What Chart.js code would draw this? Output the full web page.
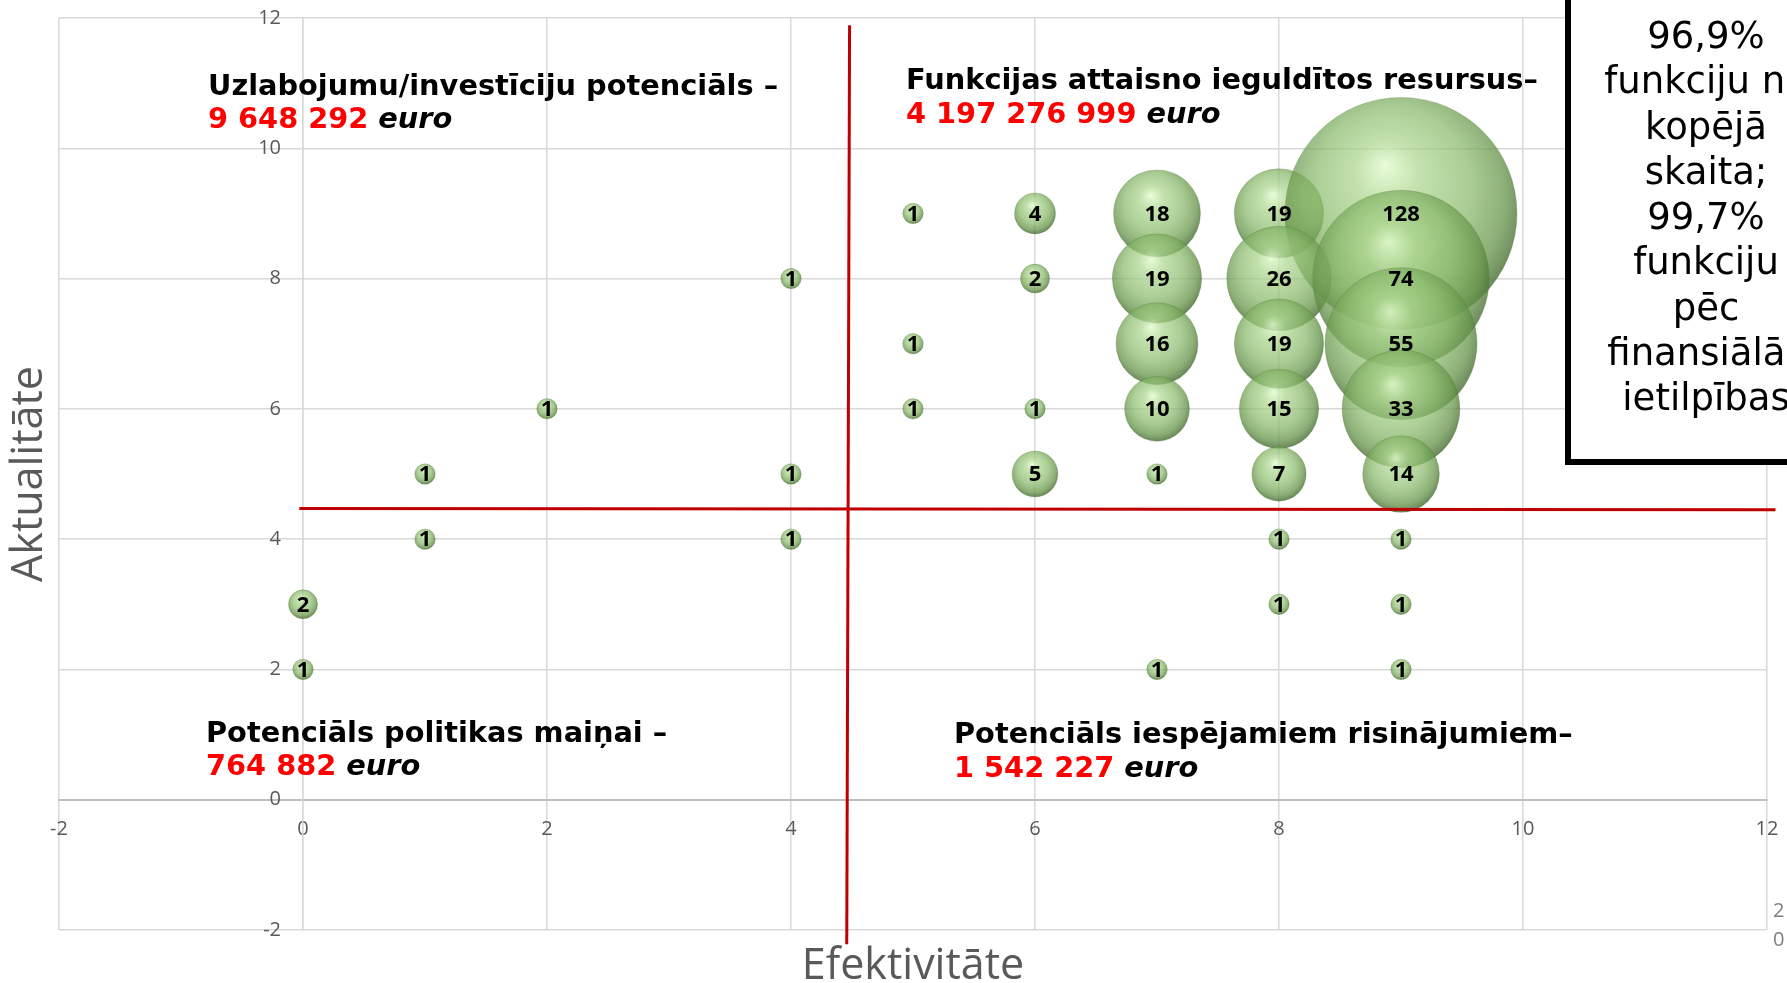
<!DOCTYPE html>
<html>
<head>
<meta charset="utf-8">
<script src="https://cdn.jsdelivr.net/npm/chart.js@4.4.0/dist/chart.umd.min.js"></script>
<style>
  html, body { margin: 0; padding: 0; background: #fff; }
</style>
</head>
<body>
<canvas id="bubble_canvas" width="1787" height="983"></canvas>
<script>
// x = Efektivitāte, y = Aktualitāte, value = funkciju skaits
const efektivitate = [5, 6, 7, 8, 9,   4, 6, 7, 8, 9,   5, 7, 8, 9,   2, 5, 6, 7, 8, 9,   1, 4, 6, 7, 8, 9,   1, 4, 8, 9,   0, 8, 9,   0, 7, 9];
const aktualitate  = [9, 9, 9, 9, 9,   8, 8, 8, 8, 8,   7, 7, 7, 7,   6, 6, 6, 6, 6, 6,   5, 5, 5, 5, 5, 5,   4, 4, 4, 4,   3, 3, 3,   2, 2, 2];
const skaits       = [1, 4, 18, 19, 128, 1, 2, 19, 26, 74, 1, 16, 19, 55, 1, 1, 1, 10, 15, 33, 1, 1, 5, 1, 7, 14, 1, 1, 1, 1, 2, 1, 1, 1, 1, 1];

// red dividing lines, in axis units
const vLineX = [4.48, 4.457];
const vLineY = [11.89, -2.22];
const hLineX = [-0.03, 12.07];
const hLineY = [4.47, 4.45];

const quadrantTitles = [
  'Uzlabojumu/investīciju potenciāls –',
  'Funkcijas attaisno ieguldītos resursus–',
  'Potenciāls politikas maiņai –',
  'Potenciāls iespējamiem risinājumiem–'
];
const quadrantSums = ['9 648 292', '4 197 276 999', '764 882', '1 542 227'];

const calloutLines = ['96,9%', 'funkciju no', 'kopējā', 'skaita;', '99,7%', 'funkciju', 'pēc', 'finansiālās', 'ietilpības'];

const xTitle = 'Efektivitāte';
const yTitle = 'Aktualitāte';

const MAX_R = 116;
const maxCount = Math.max(...skaits);
function radiusFor(v) { return MAX_R * Math.sqrt(v / maxCount); }

// 3D-looking sphere fill, lit from the top
function sphere(c) {
  const flat = 'rgba(140,188,110,0.72)';
  if (!c.raw) return flat;
  const {ctx, scales} = c.chart;
  if (!scales.x || !scales.y) return flat;
  const cx = scales.x.getPixelForValue(c.raw.x);
  const cy = scales.y.getPixelForValue(c.raw.y);
  const r = radiusFor(c.raw.v);
  if (!isFinite(cx) || !isFinite(cy) || !isFinite(r)) return flat;
  const g = ctx.createRadialGradient(cx - 0.14 * r, cy - 0.42 * r, 0, cx - 0.04 * r, cy - 0.12 * r, 1.12 * r);
  g.addColorStop(0, 'rgba(228,252,208,0.8)');
  g.addColorStop(0.25, 'rgba(172,214,142,0.72)');
  g.addColorStop(0.6, 'rgba(138,186,108,0.72)');
  g.addColorStop(0.85, 'rgba(104,150,76,0.76)');
  g.addColorStop(1, 'rgba(72,108,52,0.82)');
  return g;
}

const bubbleData = efektivitate.map((x, i) => ({x: x, y: aktualitate[i], v: skaits[i]}));

const labelsPlugin = {
  id: 'bubbleLabels',
  afterDatasetsDraw(chart) {
    const ctx = chart.ctx;
    const meta = chart.getDatasetMeta(2);
    ctx.save();
    ctx.font = 'bold 22px "Open Sans"';
    ctx.fillStyle = '#000';
    ctx.textAlign = 'center';
    ctx.textBaseline = 'middle';
    meta.data.forEach((el, i) => {
      ctx.fillText(String(skaits[i]), el.x, el.y + 1);
    });
    ctx.restore();
  }
};

// y tick labels sit beside the vertical axis at x = 0
const yLabelsPlugin = {
  id: 'yLabels',
  afterDraw(chart) {
    const {ctx, scales} = chart;
    const x0 = scales.x.getPixelForValue(0);
    ctx.save();
    ctx.font = '20px "Open Sans"';
    ctx.fillStyle = '#595959';
    ctx.textAlign = 'right';
    ctx.textBaseline = 'middle';
    scales.y.ticks.forEach(t => {
      ctx.fillText(String(t.value), x0 - 22, scales.y.getPixelForValue(t.value));
    });
    ctx.restore();
  }
};

// text placements [left, baseline1, baseline2]
const quadrantPos = [[208, 95, 128], [906, 89, 123], [206, 742, 775], [954, 743, 777]];

const textPlugin = {
  id: 'texts',
  afterDraw(chart) {
    const ctx = chart.ctx;
    const area = chart.chartArea;
    ctx.save();
    ctx.textAlign = 'left';
    ctx.textBaseline = 'alphabetic';
    quadrantTitles.forEach((t, i) => {
      const [left, b1, b2] = quadrantPos[i];
      ctx.font = 'bold 28.8px "DejaVu Sans"';
      ctx.fillStyle = '#000';
      ctx.fillText(t, left, b1);
      ctx.fillStyle = '#ff0000';
      ctx.fillText(quadrantSums[i], left, b2);
      const w = ctx.measureText(quadrantSums[i] + ' ').width;
      ctx.font = 'italic bold 28.8px "DejaVu Sans"';
      ctx.fillStyle = '#000';
      ctx.fillText('euro', left + w, b2);
    });

    // callout box
    ctx.fillStyle = '#fff';
    ctx.fillRect(1568, -10, 300, 472);
    ctx.strokeStyle = '#000';
    ctx.lineWidth = 6;
    ctx.strokeRect(1568, -10, 300, 472);
    ctx.fillStyle = '#000';
    ctx.font = '37px "DejaVu Sans"';
    ctx.textAlign = 'center';
    calloutLines.forEach((t, i) => ctx.fillText(t, 1706, 48 + i * 45.25));

    // axis titles
    ctx.fillStyle = '#595959';
    ctx.font = '43px "Open Sans"';
    ctx.fillText(xTitle, (area.left + area.right) / 2, 979);
    ctx.save();
    ctx.translate(42, (area.top + area.bottom) / 2);
    ctx.rotate(-Math.PI / 2);
    ctx.fillText(yTitle, 0, 0);
    ctx.restore();

    // cut-off text at bottom right
    ctx.fillStyle = '#7f7f7f';
    ctx.font = '20px "Open Sans"';
    ctx.textAlign = 'left';
    ctx.fillText('2', 1773, 917);
    ctx.fillText('0', 1773, 946);
    ctx.restore();
  }
};

const tickFont = {family: 'Open Sans', size: 20};

const config = {
  type: 'bubble',
  data: {
    datasets: [
      {
        type: 'scatter',
        data: vLineX.map((x, i) => ({x: x, y: vLineY[i]})),
        showLine: true,
        borderColor: '#c00000',
        borderWidth: 3,
        pointRadius: 0,
        clip: false,
        order: 0
      },
      {
        type: 'scatter',
        data: hLineX.map((x, i) => ({x: x, y: hLineY[i]})),
        showLine: true,
        borderColor: '#c00000',
        borderWidth: 3,
        pointRadius: 0,
        clip: false,
        order: 0
      },
      {
        label: 'Funkcijas',
        data: bubbleData,
        radius: c => c.raw ? radiusFor(c.raw.v) : 10,
        backgroundColor: sphere,
        borderColor: 'rgba(80,120,55,0.25)',
        borderWidth: 1,
        clip: false,
        order: 1
      }
    ]
  },
  options: {
    responsive: false,
    animation: false,
    events: [],
    layout: {autoPadding: false, padding: {left: 59, right: 20, top: 18, bottom: 53}},
    plugins: {
      legend: {display: false},
      tooltip: {enabled: false}
    },
    scales: {
      x: {
        type: 'linear',
        min: -2,
        max: 12,
        position: {y: 0},
        ticks: {stepSize: 2, color: '#595959', font: tickFont, padding: 0},
        grid: {color: '#d9d9d9', lineWidth: 1.5, drawTicks: true, tickLength: 18, tickColor: 'rgba(0,0,0,0)'},
        border: {color: '#bfbfbf', width: 2}
      },
      y: {
        type: 'linear',
        min: -2,
        max: 12,
        position: {x: 0},
        ticks: {stepSize: 2, display: false},
        grid: {color: '#d9d9d9', lineWidth: 1.5, drawTicks: false},
        border: {color: '#d9d9d9', width: 1.5}
      }
    }
  },
  plugins: [labelsPlugin, yLabelsPlugin, textPlugin]
};

const myChart = new Chart(document.getElementById('bubble_canvas'), config);
</script>
</body>
</html>
